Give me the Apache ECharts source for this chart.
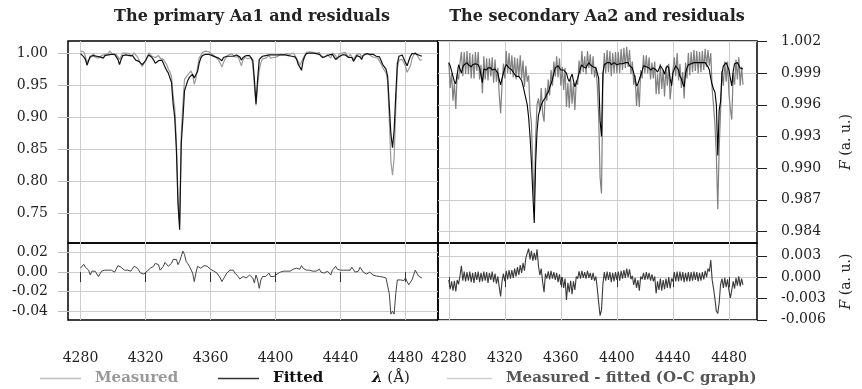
<!DOCTYPE html>
<html><head><meta charset="utf-8">
<script src="https://cdn.jsdelivr.net/npm/echarts@6.0.0/dist/echarts.min.js"></script>
<style>html,body{margin:0;padding:0;background:#fff}#chart{width:862px;height:389px}</style>
</head><body><div id="chart"></div>
<script>
// Wavelength sampling grid (Angstrom): 4280 ... 4490, one value per Angstrom
const lambdaStart = 4280;
const lambdaStep = 1;

const xTickValues = [4280, 4320, 4360, 4400, 4440, 4480];
const yTicksPrimary = [0.75, 0.80, 0.85, 0.90, 0.95, 1.00];
const yTicksPrimaryRes = [-0.04, -0.02, 0.00, 0.02];
const yTicksSecondary = [0.984, 0.987, 0.990, 0.993, 0.996, 0.999, 1.002];
const yTicksSecondaryRes = [-0.006, -0.003, 0.000, 0.003];

// Primary Aa1
const primaryFitted = [
1.000,0.998,0.995,0.991,0.982,0.989,0.996,0.995,0.997,0.994,
0.996,0.997,0.995,0.996,0.993,0.997,0.996,0.998,1.000,0.999,
0.998,0.999,0.997,0.991,0.983,0.991,0.997,0.997,0.998,0.996,
0.997,0.995,0.997,0.995,0.990,0.991,0.988,0.985,0.983,0.984,
0.989,0.994,0.998,0.998,0.994,0.990,0.985,0.983,0.989,0.991,
0.990,0.985,0.979,0.974,0.970,0.968,0.955,0.921,0.900,0.850,
0.765,0.725,0.860,0.898,0.942,0.950,0.958,0.963,0.965,0.968,
0.962,0.962,0.972,0.985,0.993,0.997,0.998,0.999,0.999,0.999,
0.998,0.997,0.996,0.995,0.994,0.993,0.991,0.989,0.994,0.996,
0.996,0.997,0.996,0.997,0.996,0.996,0.998,0.999,0.995,0.990,
0.994,0.997,0.997,0.996,0.997,0.996,0.990,0.960,0.922,0.960,
0.991,0.994,0.996,0.995,0.997,0.995,0.998,0.997,0.998,0.998,
0.998,0.997,0.998,0.999,0.998,0.997,0.998,0.999,0.997,0.998,
0.996,0.998,0.995,0.991,0.983,0.979,0.974,0.989,0.996,1.000,
1.001,1.001,1.001,1.001,1.000,1.000,1.000,0.999,0.996,0.994,
0.995,0.996,0.998,0.998,0.996,0.999,0.998,0.991,0.988,0.995,
0.997,0.998,0.997,0.998,0.996,0.994,0.997,0.994,0.988,0.991,
0.997,0.999,0.995,0.991,0.997,0.999,1.000,1.000,0.999,0.998,
0.999,0.998,0.996,0.997,0.995,0.989,0.983,0.981,0.976,0.965,
0.920,0.875,0.853,0.880,0.935,0.985,0.996,0.999,0.998,0.995,
0.986,0.981,0.989,0.996,1.000,1.001,1.000,0.999,0.998,0.996,
0.996];

const primaryMeasured = [
1.004,1.004,1.003,0.996,0.986,0.991,0.993,0.996,1.000,0.995,
0.995,0.993,0.992,0.997,0.995,0.999,0.999,1.000,1.004,1.001,
0.999,0.999,0.999,0.998,0.991,0.996,1.001,0.999,1.001,0.998,
1.000,0.996,0.999,1.001,0.998,0.995,0.990,0.984,0.980,0.982,
0.989,0.995,1.001,1.002,0.996,0.996,0.994,0.994,0.997,0.993,
0.992,0.991,0.989,0.983,0.976,0.972,0.964,0.934,0.915,0.863,
0.773,0.733,0.876,0.920,0.960,0.961,0.967,0.969,0.973,0.967,
0.952,0.961,0.978,0.993,0.997,1.002,1.005,1.004,1.005,1.003,
1.001,0.999,0.997,0.995,0.993,0.990,0.985,0.979,0.986,0.992,
0.995,0.998,0.998,1.000,0.998,0.995,0.995,0.995,0.988,0.981,
0.990,0.994,0.991,0.992,0.994,0.994,0.984,0.949,0.919,0.952,
0.974,0.986,0.992,0.991,0.993,0.992,0.997,0.993,0.992,0.994,
0.995,0.995,0.997,0.999,0.997,0.998,0.998,1.000,0.999,0.999,
0.998,1.001,0.997,0.995,0.988,0.982,0.981,0.993,0.998,1.002,
1.003,1.003,1.003,1.002,1.002,1.001,1.002,1.002,0.996,0.996,
0.994,0.993,0.999,0.997,0.993,1.001,0.999,0.997,0.991,0.999,
0.999,1.001,0.999,1.002,0.998,0.994,0.999,0.999,0.991,0.991,
0.999,1.000,1.000,0.995,0.997,1.000,0.998,1.000,0.999,0.996,
0.996,0.994,0.992,0.993,0.991,0.984,0.978,0.977,0.970,0.957,
0.898,0.832,0.810,0.837,0.913,0.977,0.990,0.991,0.991,0.986,
0.980,0.971,0.976,0.981,0.992,0.998,1.002,1.000,0.994,0.990,
0.990];

const primaryResidual = [
0.004,0.006,0.008,0.005,0.004,0.002,-0.003,0.001,0.003,0.001,
-0.001,-0.0045,-0.003,0.001,0.002,0.002,0.003,0.002,0.004,0.002,
0.001,0.000,0.002,0.0066,0.0076,0.005,0.004,0.002,0.003,0.002,
0.003,0.001,0.002,0.006,0.0076,0.004,0.002,-0.001,-0.003,-0.002,
0.000,0.001,0.003,0.004,0.002,0.006,0.009,0.011,0.0076,0.002,
0.002,0.006,0.010,0.009,0.006,0.004,0.009,0.013,0.0145,0.013,
0.0076,0.011,0.016,0.0215,0.018,0.011,0.0087,0.006,0.0076,-0.001,
-0.0097,-0.001,0.006,0.0076,0.004,0.005,0.0066,0.005,0.006,0.004,
0.003,0.002,0.001,0.000,-0.001,-0.003,-0.006,-0.0097,-0.008,-0.004,
-0.001,0.001,0.002,0.003,0.002,-0.001,-0.003,-0.0045,-0.007,-0.0087,
-0.0045,-0.003,-0.006,-0.0045,-0.003,-0.002,-0.006,-0.011,-0.003,-0.008,
-0.0166,-0.008,-0.0045,-0.004,-0.0045,-0.003,-0.001,-0.0045,-0.006,-0.0045,
-0.003,-0.002,-0.001,0.000,-0.001,0.001,0.000,0.001,0.002,0.001,
0.002,0.003,0.002,0.004,0.005,0.003,0.0066,0.004,0.002,0.002,
0.002,0.002,0.002,0.001,0.002,0.001,0.002,0.003,0.000,0.002,
-0.001,-0.003,0.001,-0.001,-0.003,0.002,0.001,0.006,0.003,0.004,
0.002,0.003,0.002,0.004,0.002,0.000,0.002,0.005,0.003,0.000,
0.002,0.001,0.005,0.004,0.000,0.001,-0.002,0.000,0.000,-0.002,
-0.003,-0.0045,-0.004,-0.0045,-0.0045,-0.005,-0.005,-0.0045,-0.006,-0.008,
-0.022,-0.043,-0.040,-0.043,-0.022,-0.008,-0.006,-0.008,-0.007,-0.0087,
-0.006,-0.0097,-0.013,-0.015,-0.008,-0.003,0.002,0.001,-0.004,-0.006,
-0.006];

// Secondary Aa2
const secondaryFitted = [
1.0000,0.9997,0.9992,0.9987,0.9982,0.9980,0.9989,0.9998,0.9994,0.9990,
0.9996,0.9998,0.9999,1.0000,0.9998,0.9997,0.9996,0.9998,0.9997,0.9999,
1.0000,0.9998,0.9995,0.9988,0.9981,0.9994,0.9993,0.9993,0.9995,0.9994,
0.9995,0.9993,0.9992,0.9994,0.9995,0.9990,0.9984,0.9979,0.9985,0.9990,
0.9995,0.9998,0.9997,0.9995,0.9995,0.9993,0.9991,0.9989,0.9987,0.9986,
0.9987,0.9986,0.9983,0.9978,0.9972,0.9966,0.9960,0.9948,0.9930,0.9905,
0.9875,0.9848,0.9905,0.9935,0.9950,0.9955,0.9960,0.9963,0.9965,0.9967,
0.9970,0.9972,0.9976,0.9980,0.9984,0.9990,0.9995,0.9996,0.9997,0.9996,
0.9993,0.9992,0.9993,0.9993,0.9990,0.9985,0.9982,0.9986,0.9989,0.9983,
0.9977,0.9978,0.9985,0.9990,0.9995,0.9998,0.9996,0.9995,0.9995,0.9998,
1.0000,0.9998,0.9997,0.9996,0.9995,0.9995,0.9994,0.9985,0.9945,0.9930,
0.9990,0.9998,0.9999,1.0000,0.9999,1.0000,0.9998,0.9999,1.0000,0.9999,
0.9998,0.9998,0.9999,1.0000,0.9999,1.0000,1.0000,0.9999,1.0000,0.9997,
0.9996,0.9995,0.9994,0.9985,0.9978,0.9980,0.9981,0.9988,0.9992,0.9997,
0.9998,0.9996,0.9997,0.9995,0.9993,0.9992,0.9995,0.9996,0.9993,0.9991,
0.9992,0.9997,0.9998,0.9993,0.9989,0.9994,0.9997,0.9995,0.9985,0.9978,
0.9990,0.9994,0.9997,0.9997,0.9993,0.9987,0.9985,0.9980,0.9977,0.9990,
0.9995,0.9998,0.9998,0.9999,1.0000,1.0000,1.0000,1.0000,1.0000,1.0000,
1.0000,1.0000,1.0000,1.0000,1.0000,0.9996,0.9993,0.9985,0.9979,0.9975,
0.9972,0.9960,0.9912,0.9955,0.9963,0.9990,0.9997,0.9998,1.0000,1.0000,
0.9993,0.9985,0.9978,0.9992,0.9999,1.0000,1.0000,1.0000,0.9995,0.9994,
0.9994];

const secondaryMeasured = [
1.0000,0.9976,0.9990,0.9964,0.9981,0.9956,0.9989,0.9984,1.0000,1.0010,
0.9987,1.0010,0.9989,1.0011,0.9989,1.0009,0.9985,1.0008,0.9985,1.0010,
0.9992,1.0010,0.9984,0.9998,0.9971,1.0006,0.9984,1.0004,0.9983,1.0004,
0.9987,1.0005,0.9981,1.0003,0.9982,0.9995,0.9970,0.9952,0.9979,0.9999,
0.9985,1.0011,0.9990,1.0009,0.9989,1.0007,0.9986,1.0005,0.9984,1.0004,
0.9986,1.0007,0.9985,1.0002,0.9977,0.9997,0.9982,0.9988,0.9955,0.9942,
0.9898,0.9870,0.9929,0.9960,0.9966,0.9954,0.9976,0.9952,0.9944,0.9976,
0.9964,0.9984,0.9969,0.9993,0.9978,1.0001,0.9987,1.0006,0.9986,1.0004,
0.9978,0.9996,0.9974,0.9995,0.9958,0.9981,0.9957,0.9985,0.9961,0.9981,
0.9955,0.9983,0.9979,1.0002,0.9989,1.0011,0.9991,1.0006,0.9989,1.0011,
0.9995,1.0008,0.9989,1.0006,0.9986,0.9996,0.9978,0.9949,0.9891,0.9876,
0.9980,1.0009,0.9990,1.0012,0.9991,1.0011,0.9987,1.0009,0.9990,1.0010,
0.9990,1.0010,0.9990,1.0013,0.9993,1.0014,0.9995,1.0015,0.9996,1.0012,
0.9989,1.0001,0.9979,0.9988,0.9959,0.9980,0.9958,0.9993,0.9985,1.0007,
0.9990,1.0007,0.9990,1.0005,0.9984,1.0000,0.9985,1.0001,0.9970,0.9989,
0.9970,0.9999,0.9975,0.9993,0.9968,0.9996,0.9978,0.9999,0.9965,0.9980,
0.9980,1.0005,0.9987,1.0009,0.9983,0.9999,0.9976,0.9991,0.9966,1.0000,
0.9985,1.0009,0.9988,1.0010,0.9991,1.0012,0.9992,1.0011,0.9990,1.0010,
0.9991,1.0011,0.9993,1.0013,0.9996,1.0012,0.9997,1.0009,0.9975,0.9959,
0.9941,0.9912,0.9861,0.9919,0.9953,0.9992,0.9978,1.0001,0.9982,1.0001,
0.9970,0.9956,0.9946,0.9990,0.9979,1.0003,0.9984,1.0005,0.9978,0.9996,
0.9979];

const secondaryResidual = [
-0.0004,-0.0017,-0.0006,-0.0019,-0.0005,-0.0020,-0.0004,-0.0010,0.0002,0.0016,
-0.0005,0.0008,-0.0006,0.0007,-0.0005,0.0008,-0.0007,0.0006,-0.0008,0.0007,
-0.0004,0.0008,-0.0007,0.0006,-0.0006,0.0008,-0.0005,0.0007,-0.0008,0.0006,
-0.0004,0.0008,-0.0007,0.0005,-0.0009,0.0001,-0.0014,-0.0027,-0.0006,0.0005,
-0.0006,0.0009,-0.0003,0.0010,-0.0002,0.0010,-0.0001,0.0012,0.0001,0.0014,
0.0003,0.0017,0.0006,0.0020,0.0009,0.0027,0.0026,0.0040,0.0025,0.0037,
0.0023,0.0034,0.0024,0.0039,0.0016,0.0003,0.0012,-0.0007,-0.0021,0.0005,
-0.0002,0.0008,-0.0003,0.0009,-0.0002,0.0007,-0.0004,0.0006,-0.0007,0.0004,
-0.0011,0.0000,-0.0015,-0.0002,-0.0032,-0.0008,-0.0021,-0.0005,-0.0024,-0.0006,
-0.0018,0.0001,-0.0002,0.0008,-0.0002,0.0009,-0.0001,0.0007,-0.0002,0.0009,
-0.0001,0.0006,-0.0004,0.0006,-0.0005,0.0001,-0.0016,-0.0036,-0.0054,-0.0046,
-0.0010,0.0007,-0.0005,0.0008,-0.0004,0.0007,-0.0007,0.0006,-0.0006,0.0007,
-0.0004,0.0008,-0.0005,0.0009,-0.0002,0.0010,-0.0001,0.0012,0.0000,0.0011,
-0.0003,0.0002,-0.0011,-0.0001,-0.0015,-0.0004,-0.0019,0.0001,-0.0003,0.0006,
-0.0004,0.0007,-0.0003,0.0006,-0.0005,0.0004,-0.0006,0.0001,-0.0023,-0.0006,
-0.0018,-0.0002,-0.0019,-0.0004,-0.0017,-0.0002,-0.0015,0.0000,-0.0016,-0.0002,
-0.0006,0.0007,-0.0006,0.0008,-0.0006,0.0008,-0.0005,0.0007,-0.0007,0.0006,
-0.0006,0.0007,-0.0006,0.0007,-0.0005,0.0008,-0.0004,0.0007,-0.0006,0.0006,
-0.0005,0.0007,-0.0003,0.0009,0.0000,0.0012,0.0008,0.0024,-0.0004,-0.0016,
-0.0031,-0.0048,-0.0051,-0.0036,-0.0010,-0.0002,-0.0015,-0.0001,-0.0014,-0.0003,
-0.0019,-0.0029,-0.0018,-0.0006,-0.0016,-0.0001,-0.0012,0.0001,-0.0013,-0.0002,
-0.0011];

const FONT = 'DejaVu Serif';
const X_MIN = 4272.3, X_MAX = 4500;

function toPairs(values) {
  return values.map((v, i) => [lambdaStart + i * lambdaStep, v]);
}

const gridBase = {show: true, borderColor: '#000', borderWidth: 1.5, backgroundColor: 'transparent', containLabel: false};
const grids = [
  Object.assign({left: 68, top: 41, width: 370, height: 202}, gridBase),
  Object.assign({left: 68, top: 243, width: 370, height: 77}, gridBase),
  Object.assign({left: 438, top: 41, width: 319, height: 202}, gridBase),
  Object.assign({left: 438, top: 243, width: 319, height: 77}, gridBase)
];

const gridLine = {show: true, lineStyle: {color: '#cdcdcd', width: 1}};
const labelStyle = {fontFamily: FONT, fontSize: 14, color: '#222'};

const xAxes = [0, 1, 2, 3].map(i => {
  const bottom = (i === 1 || i === 3);
  return {
    type: 'value', gridIndex: i, min: X_MIN, max: X_MAX,
    axisLine: {show: false},
    axisTick: {show: bottom, customValues: xTickValues, length: 10, lineStyle: {color: '#333', width: 1}},
    axisLabel: Object.assign({show: bottom, customValues: xTickValues, margin: 31, formatter: v => String(v)}, labelStyle),
    splitLine: gridLine
  };
});

const yName = '{i|F} (a. u.)';
const yNameStyle = {fontFamily: FONT, fontSize: 14, color: '#222',
  rich: {i: {fontFamily: FONT, fontSize: 14, fontStyle: 'italic', color: '#222'}}};

const yAxes = [
  {type: 'value', gridIndex: 0, min: 0.7042, max: 1.0198, position: 'left',
   axisLine: {show: false},
   axisTick: {show: true, customValues: yTicksPrimary, length: 10, lineStyle: {color: '#bbb'}},
   axisLabel: Object.assign({customValues: yTicksPrimary, margin: 20, formatter: v => v.toFixed(2)}, labelStyle),
   splitLine: gridLine},
  {type: 'value', gridIndex: 1, min: -0.049, max: 0.0298, position: 'left',
   axisLine: {show: false},
   axisTick: {show: true, customValues: yTicksPrimaryRes, length: 10, lineStyle: {color: '#bbb'}},
   axisLabel: Object.assign({customValues: yTicksPrimaryRes, margin: 20, formatter: v => v.toFixed(2)}, labelStyle),
   splitLine: gridLine},
  {type: 'value', gridIndex: 2, min: 0.9829, max: 1.00205, position: 'right',
   axisLine: {show: false},
   axisTick: {show: true, customValues: yTicksSecondary, length: 10, lineStyle: {color: '#222'}},
   axisLabel: Object.assign({customValues: yTicksSecondary, margin: 24, formatter: v => v.toFixed(3)}, labelStyle),
   splitLine: gridLine,
   name: yName, nameLocation: 'middle', nameRotate: 90, nameGap: 82, nameTextStyle: yNameStyle},
  {type: 'value', gridIndex: 3, min: -0.00602, max: 0.0048, position: 'right',
   axisLine: {show: false},
   axisTick: {show: true, customValues: yTicksSecondaryRes, length: 10, lineStyle: {color: '#222'}},
   axisLabel: Object.assign({customValues: yTicksSecondaryRes, margin: 24, formatter: v => v.toFixed(3)}, labelStyle),
   splitLine: gridLine,
   name: yName, nameLocation: 'middle', nameRotate: 90, nameGap: 82, nameTextStyle: yNameStyle}
];

const common = {type: 'line', silent: true, animation: false, emphasis: {disabled: true}, showSymbol: false};
const series = [
  Object.assign({name: 'Measured', xAxisIndex: 0, yAxisIndex: 0, data: toPairs(primaryMeasured),
    z: 2, itemStyle: {color: '#9a9a9a'}, lineStyle: {color: '#9a9a9a', width: 1.2}}, common),
  Object.assign({name: 'Fitted', xAxisIndex: 0, yAxisIndex: 0, data: toPairs(primaryFitted),
    z: 3, itemStyle: {color: '#111'}, lineStyle: {color: '#111', width: 1.2}}, common),
  Object.assign({name: 'Measured - fitted (O-C graph)', xAxisIndex: 1, yAxisIndex: 1, data: toPairs(primaryResidual),
    z: 3, itemStyle: {color: '#333'}, lineStyle: {color: '#444', width: 1}}, common),
  Object.assign({name: 'Measured', xAxisIndex: 2, yAxisIndex: 2, data: toPairs(secondaryMeasured),
    z: 2, itemStyle: {color: '#808080'}, lineStyle: {color: '#808080', width: 1.2}}, common),
  Object.assign({name: 'Fitted', xAxisIndex: 2, yAxisIndex: 2, data: toPairs(secondaryFitted),
    z: 3, itemStyle: {color: '#000'}, lineStyle: {color: '#000', width: 1.1}}, common),
  Object.assign({name: 'Measured - fitted (O-C graph)', xAxisIndex: 3, yAxisIndex: 3, data: toPairs(secondaryResidual),
    z: 3, itemStyle: {color: '#333'}, lineStyle: {color: '#3a3a3a', width: 1.1}}, common)
];

const legendText = {fontFamily: FONT, fontWeight: 'bold', fontSize: 15, padding: [0, 0, 0, 9]};
function legendAt(left, name, iconColor, textColor, w) {
  return {left: left, top: 371, padding: 0, icon: 'rect', itemWidth: w, itemHeight: 1.5,
    selectedMode: false, textStyle: Object.assign({color: textColor}, legendText),
    data: [{name: name, itemStyle: {color: iconColor}, textStyle: {color: textColor}}]};
}

const titleStyle = {fontFamily: FONT, fontWeight: 'bold', fontSize: 16, color: '#222'};

const option = {
  backgroundColor: '#fff',
  animation: false,
  title: [
    {text: 'The primary Aa1 and residuals', left: 252, top: 9, padding: 0, textAlign: 'center', textStyle: titleStyle},
    {text: 'The secondary Aa2 and residuals', left: 597, top: 9, padding: 0, textAlign: 'center', textStyle: titleStyle}
  ],
  legend: [
    legendAt(40, 'Measured', '#bdbdbd', '#9a9a9a', 41),
    legendAt(218, 'Fitted', '#333', '#111', 41),
    legendAt(447, 'Measured - fitted (O-C graph)', '#cfcfcf', '#555', 45)
  ],
  grid: grids,
  xAxis: xAxes,
  yAxis: yAxes,
  series: series,
  graphic: [
    {type: 'text', left: 372, top: 371, silent: true,
     style: {text: '{l|λ} (Å)', fontFamily: FONT, fontSize: 15, fill: '#222',
       rich: {l: {fontFamily: FONT, fontSize: 15, fontStyle: 'italic', fontWeight: 'bold', fill: '#111'}}}}
  ]
};

const chart = echarts.init(document.getElementById('chart'), null, {renderer: 'canvas'});
chart.setOption(option);
</script></body></html>
